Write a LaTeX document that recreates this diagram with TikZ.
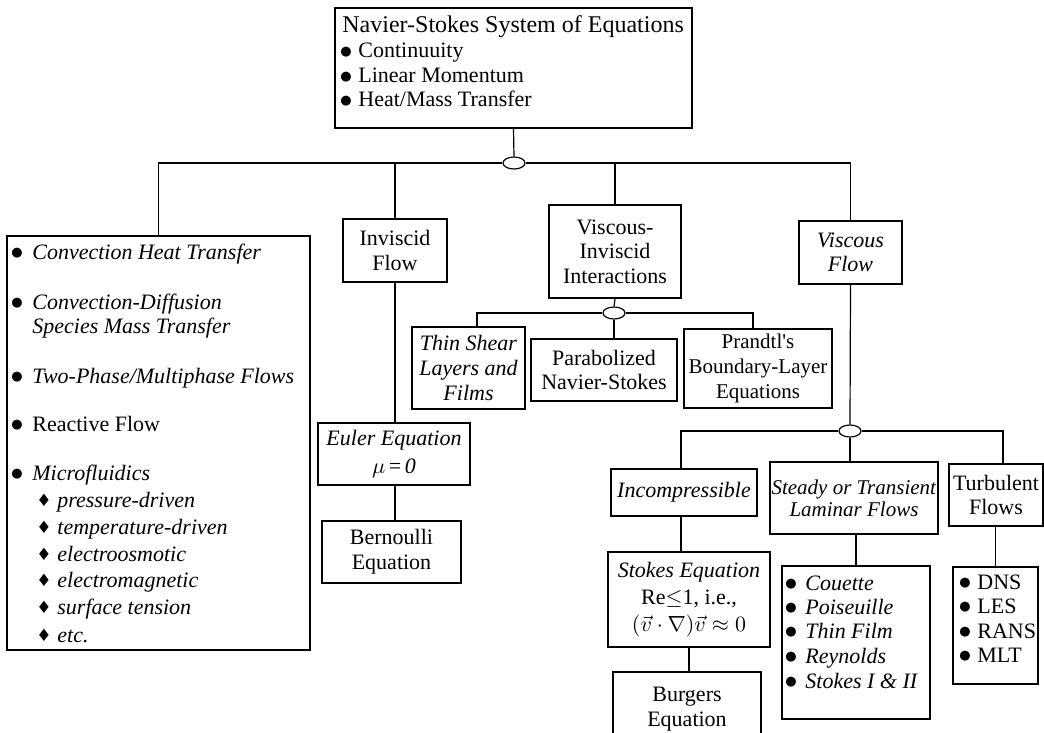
\documentclass[tikz,border=0pt]{standalone}
\usepackage{amsmath}
\usepackage{fontspec}
\setmainfont{Liberation Serif}
\newfontfamily\dingfont{DejaVu Sans}
\tikzset{>=stealth}
\usetikzlibrary{shapes,positioning}
\colorlet{background}{white}
\colorlet{penColor}{black}
\newcommand{\bulitem}[1]{\makebox[#1][l]{\raisebox{1.2pt}{\dingfont\fontsize{6.5}{7}\selectfont ●}}}
\newcommand{\diaitem}[1]{\makebox[#1][l]{\raisebox{0.4pt}{\dingfont\fontsize{8.5}{9}\selectfont ♦}}}
\tikzset{
	blk/.style={draw=penColor, line width=0.9pt, inner sep=0pt, align=center, font=\fontsize{11}{12.3}\selectfont},
	txt/.style={anchor=base west, inner sep=0pt, font=\fontsize{11}{12}\selectfont},
	junc/.style={draw=penColor, line width=0.6pt, ellipse, fill=background, minimum width=11pt, minimum height=6pt, inner sep=0pt},
	wire/.style={draw=penColor, line width=0.6pt}
}

\begin{document}
\begin{tikzpicture}[x=0.5pt,y=-0.5pt]
		\useasboundingbox (0,0) rectangle (1044,733);
		\node [blk, minimum width=178.5pt, minimum height=60pt] (nse) at (513.5,68) {};
		\node [txt, font=\fontsize{12}{14}\selectfont] (nsetitle) at (342,33) {Navier-Stokes System of Equations};
		\node [txt] (cont) at (340,58) {\bulitem{9pt}Continuuity};
		\node [txt] (momt) at (340,83) {\bulitem{9pt}Linear Momentum};
		\node [txt] (heat) at (340,107) {\bulitem{9pt}Heat/Mass Transfer};
		\node [junc] (jnse) at (514,163) {};
		\node [blk, minimum width=151.5pt, minimum height=207pt] (apps) at (158.5,443) {};
		\node [txt] (conv) at (11,259) {\bulitem{10.5pt}\textit{Convection Heat Transfer}};
		\node [txt] (cdif) at (11,309) {\bulitem{10.5pt}\textit{Convection-Diffusion}};
		\node [txt] (spec) at (32,333) {\textit{Species Mass Transfer}};
		\node [txt] (twop) at (11,383) {\bulitem{10.5pt}\textit{Two-Phase/Multiphase Flows}};
		\node [txt] (reac) at (11,431) {\bulitem{10.5pt}Reactive Flow};
		\node [txt] (micr) at (11,480) {\bulitem{10.5pt}\textit{Microfluidics}};
		\node [txt] (pres) at (36,507) {\diaitem{10.5pt}\textit{pressure-driven}};
		\node [txt] (temp) at (36,534) {\diaitem{10.5pt}\textit{temperature-driven}};
		\node [txt] (eosm) at (36,561) {\diaitem{10.5pt}\textit{electroosmotic}};
		\node [txt] (emag) at (36,587) {\diaitem{10.5pt}\textit{electromagnetic}};
		\node [txt] (surf) at (36,614) {\diaitem{10.5pt}\textit{surface tension}};
		\node [txt] (etc) at (36,642) {\diaitem{10.5pt}\textit{etc.}};
		\node [blk, minimum width=52pt, minimum height=31.5pt] (invf) at (395,250.5) {Inviscid\\Flow};
		\node [blk, minimum width=76pt, minimum height=31pt] (eul) at (394,454) {\textit{Euler Equation}\\[2pt]$\mu$\,=\,\textit{0}};
		\node [blk, minimum width=69.5pt, minimum height=31pt] (bern) at (391.5,552) {Bernoulli\\Equation};
		\node [blk, minimum width=66pt, minimum height=46.5pt] (vint) at (615,251.5) {Viscous-\\Inviscid\\Interactions};
		\node [junc] (jvint) at (614,313) {};
		\node [blk, minimum width=56.5pt, minimum height=41pt] (thin) at (468.5,368) {\textit{Thin Shear}\\\textit{Layers and}\\\textit{Films}};
		\node [blk, minimum width=73pt, minimum height=31pt] (para) at (604,370) {Parabolized\\Navier-Stokes};
		\node [blk, minimum width=74pt, minimum height=39.5pt, font=\fontsize{10.5}{12.5}\selectfont] (bl) at (758,368.5) {Prandtl\textquotesingle s\\Boundary-Layer\\Equations};
		\node [blk, minimum width=51.5pt, minimum height=31.5pt] (visf) at (850.5,252.5) {\textit{Viscous}\\\textit{Flow}};
		\node [junc] (jvisf) at (850,431) {};
		\node [blk, minimum width=73pt, minimum height=23.5pt] (incp) at (684,492.5) {\textit{Incompressible}};
		\node [blk, minimum width=84pt, minimum height=36pt, font=\fontsize{10.5}{11}\selectfont] (lam) at (854,498) {\textit{Steady or Transient}\\\textit{Laminar Flows}};
		\node [blk, minimum width=47pt, minimum height=31pt] (turb) at (996,495) {Turbulent\\Flows};
		\node [blk, minimum width=81pt, minimum height=47.5pt] (stk) at (689,599.5) {\textit{Stokes Equation}\\[1pt]Re$\leq$1, i.e.,\\[1pt]$(\vec{v}\cdot\nabla)\vec{v}\approx 0$};
		\node [blk, minimum width=74pt, minimum height=37pt] (burg) at (687,709) {Burgers\\Equation};
		\node [blk, minimum width=74pt, minimum height=76.5pt] (lamlist) at (856,642.5) {};
		\node [txt] (couet) at (785,590) {\bulitem{10pt}\textit{Couette}};
		\node [txt] (poise) at (785,614) {\bulitem{10pt}\textit{Poiseuille}};
		\node [txt] (film) at (785,638) {\bulitem{10pt}\textit{Thin Film}};
		\node [txt] (reyn) at (785,663) {\bulitem{10pt}\textit{Reynolds}};
		\node [txt] (stks) at (785,688) {\bulitem{10pt}\textit{Stokes I \& II}};
		\node [blk, minimum width=42.5pt, minimum height=58.5pt] (turblist) at (995.5,625.5) {};
		\node [txt] (dns) at (959,589) {\bulitem{9pt}DNS};
		\node [txt] (les) at (959,613) {\bulitem{9pt}LES};
		\node [txt] (rans) at (959,638) {\bulitem{9pt}RANS};
		\node [txt] (mlt) at (959,662) {\bulitem{9pt}MLT};
		\draw [wire] (nse.south) -- (jnse.north);
		\draw [wire] (apps.north) |- (jnse.west);
		\draw [wire] (invf.north) |- (jnse.west);
		\draw [wire] (vint.north) |- (jnse.east);
		\draw [wire] (visf.north) |- (jnse.east);
		\draw [wire] (invf.south) -- (invf.south |- eul.north);
		\draw [wire] (eul.south -| invf.south) -- (invf.south |- bern.north);
		\draw [wire] (vint.south) -- (jvint.north);
		\draw [wire] ([xshift=4.25pt]thin.north) |- (jvint.west);
		\draw [wire] (jvint.south) -- (jvint.south |- para.north);
		\draw [wire] ([xshift=-2.5pt]bl.north) |- (jvint.east);
		\draw [wire] (visf.south) -- (jvisf.north);
		\draw [wire] ([xshift=-1.5pt]incp.north) |- (jvisf.west);
		\draw [wire] (jvisf.south) -- (jvisf.south |- lam.north);
		\draw [wire] ([xshift=3.5pt]turb.north) |- (jvisf.east);
		\draw [wire] ([xshift=-1.5pt]incp.south) -- ([xshift=-1.5pt]incp.south |- stk.north);
		\draw [wire] (burg.north -| stk.south) -- (stk.south);
		\draw [wire] (lamlist.north) -- (lamlist.north |- lam.south);
		\draw [wire] (turblist.north) -- (turblist.north |- turb.south);
		\end{tikzpicture}
\end{document}
